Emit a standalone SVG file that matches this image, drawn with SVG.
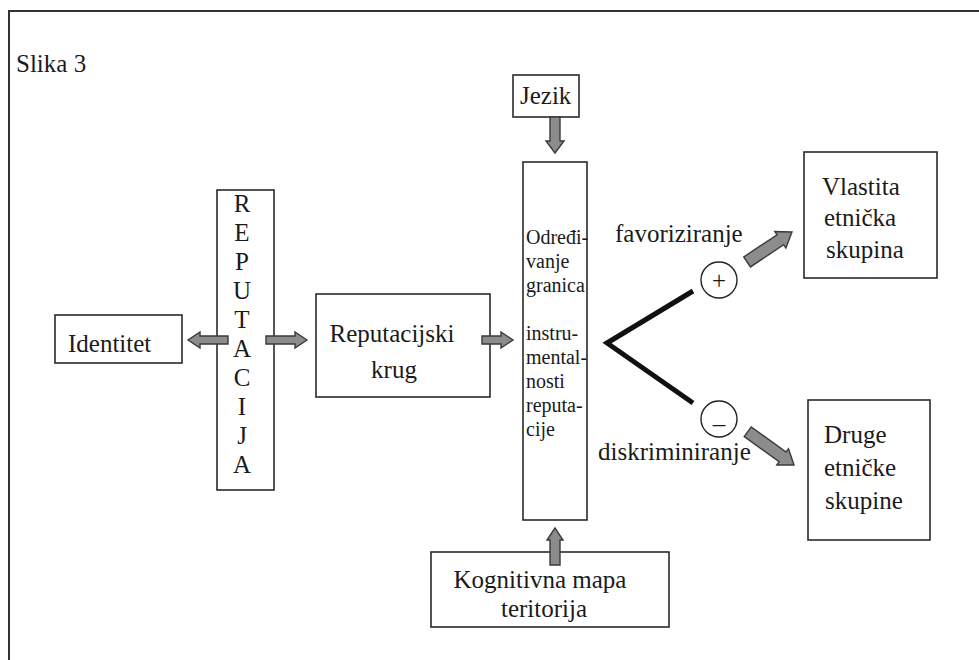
<svg xmlns="http://www.w3.org/2000/svg" width="979" height="660" viewBox="0 0 979 660">
<style>
  text { font-family: 'Liberation Serif', 'DejaVu Serif', 'Times New Roman', serif; fill: #1a1a1a; }
  .t { font-size: 25px; }
  .s { font-size: 20px; }
  .box { fill: #ffffff; stroke: #2a2a2a; stroke-width: 1.6; }
  .frame { fill: none; stroke: #333333; stroke-width: 2; }
  .arr { fill: #8c8c8c; stroke: #3a3a3a; stroke-width: 1.4; stroke-linejoin: miter; }
  .vline { fill: none; stroke: #111111; stroke-width: 5; stroke-linejoin: miter; stroke-linecap: butt; }
  .circ { fill: #ffffff; stroke: #222222; stroke-width: 1.4; }
</style>
<rect x="0" y="0" width="979" height="660" fill="#ffffff"/>
<path class="frame" d="M9,660 V11 H979"/>
<text class="t" x="16" y="72" font-family="Liberation Serif, serif">Slika 3</text>

<g id="identitet">
  <rect class="box" x="55" y="315" width="127" height="48"/>
  <text class="t" x="68" y="352">Identitet</text>
</g>

<g id="reputacija">
  <rect class="box" x="217" y="190" width="57" height="300"/>
  <text class="t" x="242" y="212" text-anchor="middle">R</text>
  <text class="t" x="242" y="241" text-anchor="middle">E</text>
  <text class="t" x="242" y="270" text-anchor="middle">P</text>
  <text class="t" x="242" y="299" text-anchor="middle">U</text>
  <text class="t" x="242" y="328" text-anchor="middle">T</text>
  <text class="t" x="242" y="357" text-anchor="middle">A</text>
  <text class="t" x="242" y="386" text-anchor="middle">C</text>
  <text class="t" x="242" y="415" text-anchor="middle">I</text>
  <text class="t" x="242" y="444" text-anchor="middle">J</text>
  <text class="t" x="242" y="473" text-anchor="middle">A</text>
</g>

<g id="reputacijski-krug">
  <rect class="box" x="316" y="294" width="174" height="103"/>
  <text class="t" x="392" y="342" text-anchor="middle">Reputacijski</text>
  <text class="t" x="394" y="378" text-anchor="middle">krug</text>
</g>

<g id="jezik">
  <rect class="box" x="513" y="75" width="66" height="42"/>
  <text class="t" x="520" y="104">Jezik</text>
</g>

<g id="odredjivanje">
  <rect class="box" x="523" y="162" width="64" height="358"/>
  <text class="s" x="526" y="244">Određi-</text>
  <text class="s" x="526" y="268">vanje</text>
  <text class="s" x="526" y="292">granica</text>
  <text class="s" x="526" y="340">instru-</text>
  <text class="s" x="526" y="364">mental-</text>
  <text class="s" x="526" y="388">nosti</text>
  <text class="s" x="526" y="412">reputa-</text>
  <text class="s" x="526" y="436">cije</text>
</g>

<g id="kognitivna-mapa">
  <rect class="box" x="431" y="552" width="238" height="75"/>
  <text class="t" x="540" y="588" text-anchor="middle">Kognitivna mapa</text>
  <text class="t" x="544" y="617" text-anchor="middle">teritorija</text>
</g>

<g id="vlastita">
  <rect class="box" x="804" y="152" width="133" height="126"/>
  <text class="t" x="822" y="195">Vlastita</text>
  <text class="t" x="824" y="226">etnička</text>
  <text class="t" x="826" y="258">skupina</text>
</g>

<g id="druge">
  <rect class="box" x="808" y="400" width="122" height="140"/>
  <text class="t" x="824" y="443">Druge</text>
  <text class="t" x="824" y="476">etničke</text>
  <text class="t" x="825" y="509">skupine</text>
</g>

<g id="plus">
  <circle class="circ" cx="719" cy="280" r="18"/>
  <text class="t" x="719" y="289" text-anchor="middle">+</text>
</g>

<g id="minus">
  <circle class="circ" cx="719" cy="419" r="18"/>
  <text class="t" x="719" y="432" text-anchor="middle">–</text>
</g>

<g id="connectors">
  <path class="arr" transform="translate(188,340) rotate(180)" d="M0,0 L-12,-8 L-12,-4 L-40,-4 L-40,4 L-12,4 L-12,8 Z"/>
  <path class="arr" transform="translate(307,340)" d="M0,0 L-12,-8 L-12,-4 L-41,-4 L-41,4 L-12,4 L-12,8 Z"/>
  <path class="arr" transform="translate(513,340)" d="M0,0 L-12,-8 L-12,-4 L-31,-4 L-31,4 L-12,4 L-12,8 Z"/>
  <path class="arr" transform="translate(555,153) rotate(90)" d="M0,0 L-12,-9 L-12,-5 L-36,-5 L-36,5 L-12,5 L-12,9 Z"/>
  <path class="arr" transform="translate(555,528) rotate(-90)" d="M0,0 L-12,-8 L-12,-5 L-37,-5 L-37,5 L-12,5 L-12,8 Z"/>
  <path class="arr" transform="translate(792,232) rotate(-33.7)" d="M0,0 L-14,-10 L-14,-6 L-54,-6 L-54,6 L-14,6 L-14,10 Z"/>
  <path class="arr" transform="translate(794,465) rotate(35.7)" d="M0,0 L-14,-10 L-14,-6 L-57,-6 L-57,6 L-14,6 L-14,10 Z"/>
  <polyline class="vline" points="693,291 607,343 693,403"/>
  <text class="t" x="615" y="242">favoriziranje</text>
  <text class="t" x="598" y="460">diskriminiranje</text>
</g>
</svg>
